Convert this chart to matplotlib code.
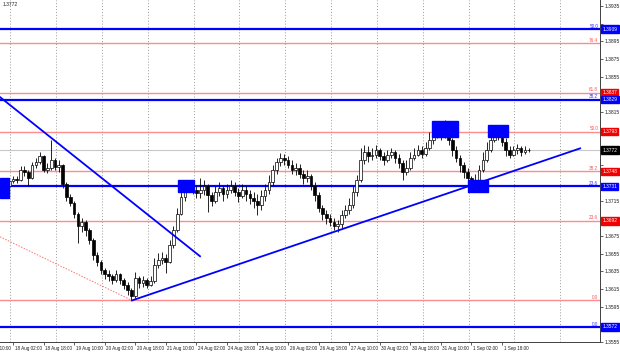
import numpy as np
import matplotlib
matplotlib.use("Agg")
import matplotlib.pyplot as plt
from matplotlib.patches import Rectangle
from matplotlib.transforms import blended_transform_factory

plt.rcParams['font.family'] = ['Liberation Sans', 'DejaVu Sans']

# H2 candles, hours counted from 18 Aug 02:00
first_open = 1.3730
closes = [1.3735, 1.3731, 1.3737, 1.3739, 1.3738, 1.3749, 1.3747, 1.3740, 1.3755, 1.3759,
          1.3765, 1.3749, 1.3752, 1.3761, 1.3753, 1.3755, 1.3734, 1.3719, 1.3712, 1.3700,
          1.3686, 1.3691, 1.3682, 1.3670, 1.3653, 1.3645, 1.3636, 1.3632, 1.3630, 1.3625,
          1.3632, 1.3625, 1.3619, 1.3614, 1.3607, 1.3627, 1.3622, 1.3625, 1.3619, 1.3624,
          1.3642, 1.3648, 1.3650, 1.3645, 1.3665, 1.3682, 1.3700, 1.3719, 1.3729, 1.3732,
          1.3727, 1.3723, 1.3727, 1.3731, 1.3721, 1.3715, 1.3725, 1.3729, 1.3722, 1.3727,
          1.3731, 1.3725, 1.3720, 1.3727, 1.3722, 1.3718, 1.3715, 1.3710, 1.3720, 1.3727,
          1.3736, 1.3749, 1.3759, 1.3763, 1.3761, 1.3755, 1.3749, 1.3752, 1.3745, 1.3740,
          1.3743, 1.3732, 1.3721, 1.3707, 1.3700, 1.3695, 1.3691, 1.3686, 1.3688, 1.3699,
          1.3704, 1.3710, 1.3725, 1.3738, 1.3761, 1.3770, 1.3765, 1.3766, 1.3772, 1.3765,
          1.3761, 1.3766, 1.3770, 1.3763, 1.3757, 1.3747, 1.3752, 1.3763, 1.3766, 1.3772,
          1.3768, 1.3774, 1.3783, 1.3792, 1.3795, 1.3789, 1.3797, 1.3783, 1.3772, 1.3763,
          1.3755, 1.3747, 1.3740, 1.3735, 1.3738, 1.3749, 1.3761, 1.3772, 1.3783, 1.3792,
          1.3790, 1.3781, 1.3772, 1.3766, 1.3772, 1.3774, 1.3770, 1.3772, 1.3772]
highs = [1.3740, 1.3738, 1.3740, 1.3743, 1.3743, 1.3754, 1.3754, 1.3749, 1.3759, 1.3763,
         1.3770, 1.3766, 1.3757, 1.3783, 1.3763, 1.3761, 1.3756, 1.3736, 1.3722, 1.3715,
         1.3702, 1.3695, 1.3693, 1.3684, 1.3673, 1.3657, 1.3648, 1.3639, 1.3636, 1.3632,
         1.3636, 1.3633, 1.3627, 1.3623, 1.3616, 1.3634, 1.3630, 1.3630, 1.3627, 1.3630,
         1.3650, 1.3656, 1.3657, 1.3655, 1.3670, 1.3686, 1.3707, 1.3727, 1.3736, 1.3738,
         1.3735, 1.3731, 1.3740, 1.3738, 1.3734, 1.3725, 1.3732, 1.3736, 1.3731, 1.3734,
         1.3738, 1.3736, 1.3729, 1.3734, 1.3731, 1.3727, 1.3725, 1.3722, 1.3727, 1.3734,
         1.3744, 1.3755, 1.3763, 1.3769, 1.3768, 1.3765, 1.3761, 1.3757, 1.3756, 1.3749,
         1.3749, 1.3745, 1.3736, 1.3725, 1.3710, 1.3704, 1.3700, 1.3695, 1.3693, 1.3704,
         1.3710, 1.3718, 1.3731, 1.3744, 1.3774, 1.3778, 1.3777, 1.3774, 1.3778, 1.3774,
         1.3770, 1.3772, 1.3774, 1.3772, 1.3768, 1.3761, 1.3761, 1.3770, 1.3774, 1.3778,
         1.3777, 1.3781, 1.3792, 1.3800, 1.3804, 1.3799, 1.3806, 1.3799, 1.3786, 1.3777,
         1.3766, 1.3759, 1.3752, 1.3743, 1.3745, 1.3755, 1.3770, 1.3781, 1.3790, 1.3797,
         1.3799, 1.3795, 1.3786, 1.3777, 1.3777, 1.3779, 1.3777, 1.3777, 1.3774]
lows = [1.3725, 1.3727, 1.3729, 1.3735, 1.3735, 1.3737, 1.3743, 1.3731, 1.3739, 1.3752,
        1.3756, 1.3747, 1.3746, 1.3749, 1.3749, 1.3747, 1.3729, 1.3715, 1.3709, 1.3695,
        1.3667, 1.3679, 1.3675, 1.3666, 1.3648, 1.3641, 1.3632, 1.3626, 1.3624, 1.3621,
        1.3623, 1.3621, 1.3615, 1.3608, 1.3602, 1.3605, 1.3616, 1.3617, 1.3616, 1.3618,
        1.3622, 1.3639, 1.3643, 1.3633, 1.3644, 1.3661, 1.3679, 1.3699, 1.3715, 1.3725,
        1.3722, 1.3718, 1.3718, 1.3721, 1.3702, 1.3709, 1.3712, 1.3720, 1.3715, 1.3718,
        1.3723, 1.3720, 1.3713, 1.3718, 1.3715, 1.3711, 1.3707, 1.3699, 1.3704, 1.3715,
        1.3722, 1.3731, 1.3745, 1.3754, 1.3755, 1.3752, 1.3745, 1.3744, 1.3740, 1.3734,
        1.3736, 1.3727, 1.3715, 1.3702, 1.3693, 1.3688, 1.3686, 1.3682, 1.3679, 1.3684,
        1.3695, 1.3700, 1.3707, 1.3720, 1.3736, 1.3756, 1.3759, 1.3761, 1.3763, 1.3761,
        1.3755, 1.3759, 1.3763, 1.3757, 1.3752, 1.3738, 1.3744, 1.3749, 1.3761, 1.3765,
        1.3763, 1.3765, 1.3772, 1.3779, 1.3786, 1.3783, 1.3786, 1.3778, 1.3765, 1.3759,
        1.3747, 1.3740, 1.3736, 1.3729, 1.3731, 1.3735, 1.3747, 1.3759, 1.3770, 1.3781,
        1.3783, 1.3777, 1.3765, 1.3763, 1.3765, 1.3768, 1.3765, 1.3768, 1.3770]

time_labels = ["17 Aug 10:00", "18 Aug 02:00", "18 Aug 18:00", "19 Aug 10:00",
               "20 Aug 02:00", "20 Aug 18:00", "21 Aug 10:00", "24 Aug 02:00",
               "24 Aug 18:00", "25 Aug 10:00", "26 Aug 02:00", "26 Aug 18:00",
               "27 Aug 10:00", "30 Aug 02:00", "30 Aug 18:00", "31 Aug 10:00",
               "1 Sep 02:00", "1 Sep 18:00"]
label_hours = [-16 + 16 * k for k in range(len(time_labels))]

# fibonacci grids
blue_levels = [1.3909, 1.3829, 1.3731, 1.3572]
blue_names = ["50.0", "38.2", "23.6", "0.0"]
red_levels = [1.3893, 1.3837, 1.3793, 1.3748, 1.3692, 1.3602]
red_names = ["76.4", "61.8", "50.0", "38.2", "23.6", "0.0"]
red_boxed = [False, True, True, True, True, False]
last_price = 1.3772

# trend lines: (hour, price) anchors
down_line_t = [-6.8, 97.9]
down_line_p = [1.3832, 1.3652]
up_line_t = [62.3, 296.9]
up_line_p = [1.3602, 1.3774]
dot_line_t = [-6.8, 62.3]
dot_line_p = [1.3674, 1.3602]

# marker boxes: t0, t1, p_low, p_high
boxes_t0 = [-6.8, 86.4, 219.4, 238.2, 248.7]
boxes_t1 = [-2.1, 94.8, 233.0, 248.7, 259.2]
boxes_lo = [1.3718, 1.3725, 1.3787, 1.3725, 1.3787]
boxes_hi = [1.3740, 1.3738, 1.3805, 1.3738, 1.3800]

BLUE = '#0000ff'
RED = '#ff8c8c'
TAG_FS = 3.5

fig = plt.figure(figsize=(6.2, 3.57), dpi=100)
ax = fig.add_axes([0, 15 / 357, 600 / 620, 342 / 357])

# grid
for k in range(14):
    ax.axvline(-1.5 + 24 * k, color='#9a9a9a', lw=0.7, ls=(0, (1, 2)), zorder=0)
ax.axhline(last_price, color='#c8c8c8', lw=0.8, zorder=0)

# fib levels
for lv in red_levels:
    ax.axhline(lv, color=RED, lw=1.0, zorder=1)
for lv in blue_levels:
    ax.axhline(lv, color=BLUE, lw=1.6, zorder=1)

# candles
bar_hours = np.arange(len(closes)) * 2 - 6
opens = [first_open] + closes[:-1]
ax.vlines(bar_hours, lows, highs, color='black', lw=0.6, zorder=3)
o = np.array(opens)
c = np.array(closes)
bottoms = np.minimum(o, c)
heights = np.maximum(np.abs(c - o), 0.00005)
faces = ['white' if cc > oo else 'black' for oo, cc in zip(o, c)]
ax.bar(bar_hours, heights, bottom=bottoms, width=1.4, color=faces,
       edgecolor='black', linewidth=0.5, zorder=4)

# trend lines
ax.plot(down_line_t, down_line_p, color=BLUE, lw=1.3, zorder=5)
ax.plot(up_line_t, up_line_p, color=BLUE, lw=1.3, zorder=5)
ax.plot(dot_line_t, dot_line_p, color='#ff7070', lw=0.7, ls=(0, (1.5, 1.5)), zorder=2)

for t0, t1, lo, hi in zip(boxes_t0, boxes_t1, boxes_lo, boxes_hi):
    ax.add_patch(Rectangle((t0, lo), t1 - t0, hi - lo, facecolor=BLUE,
                           edgecolor=BLUE, zorder=6))

# axis styling
for s in ['left', 'top']:
    ax.spines[s].set_visible(False)
for s in ['right', 'bottom']:
    ax.spines[s].set_color('#404040')
    ax.spines[s].set_linewidth(0.7)

tagged = blue_levels + [lv for lv, b in zip(red_levels, red_boxed) if b] + [last_price]
yt = [round(1.3555 + 0.002 * k, 4) for k in range(20)]
ax.yaxis.tick_right()
ax.set_yticks(yt)
ax.set_yticklabels(['' if min(abs(v - t) for t in tagged) < 0.0008 else '%.4f' % v
                    for v in yt])
ax.tick_params(axis='y', labelsize=3.6, length=2, pad=1, width=0.5, colors='#202020')

# time axis: tick marks plus left-aligned labels
tr_x = blended_transform_factory(ax.transData, ax.transAxes)
ax.set_xticks([h for h in label_hours if h > -6])
ax.set_xticklabels([])
ax.tick_params(axis='x', length=2.5, width=0.5, colors='#202020')
for h, txt in zip(label_hours, time_labels):
    ax.text(h + 0.8, -0.012, txt, transform=tr_x, ha='left', va='top',
            fontsize=3.3, color='#202020', clip_on=False)

ax.set_xlim(-6.8, 307.3)
ax.set_ylim(1.3555, 1.39418)

# level tags and price boxes
tr = blended_transform_factory(ax.transAxes, ax.transData)
for lv, nm, bx in zip(red_levels, red_names, red_boxed):
    ax.text(0.997, lv + 0.00005, nm, transform=tr, ha='right', va='bottom',
            fontsize=3.3, color='#ff5050')
    if bx:
        ax.text(1.004, lv, '%.4f' % lv, transform=tr, ha='left', va='center',
                fontsize=TAG_FS, color='white', zorder=10, clip_on=False,
                bbox=dict(boxstyle='square,pad=0.25', fc='#f00000', ec='#f00000'))
for lv, nm in zip(blue_levels, blue_names):
    ax.text(0.997, lv + 0.00005, nm, transform=tr, ha='right', va='bottom',
            fontsize=3.3, color='#3030ff')
    ax.text(1.004, lv, '%.4f' % lv, transform=tr, ha='left', va='center',
            fontsize=TAG_FS, color='white', zorder=10, clip_on=False,
            bbox=dict(boxstyle='square,pad=0.25', fc=BLUE, ec=BLUE))
ax.text(1.004, last_price, '%.4f' % last_price, transform=tr, ha='left', va='center',
        fontsize=TAG_FS, color='white', zorder=10, clip_on=False,
        bbox=dict(boxstyle='square,pad=0.25', fc='black', ec='black'))

ax.text(0.005, 0.993, '%.4f' % last_price, transform=ax.transAxes, ha='left', va='top',
        fontsize=3.6, color='#202020')

fig.savefig('out.png', dpi=100, facecolor='white')
